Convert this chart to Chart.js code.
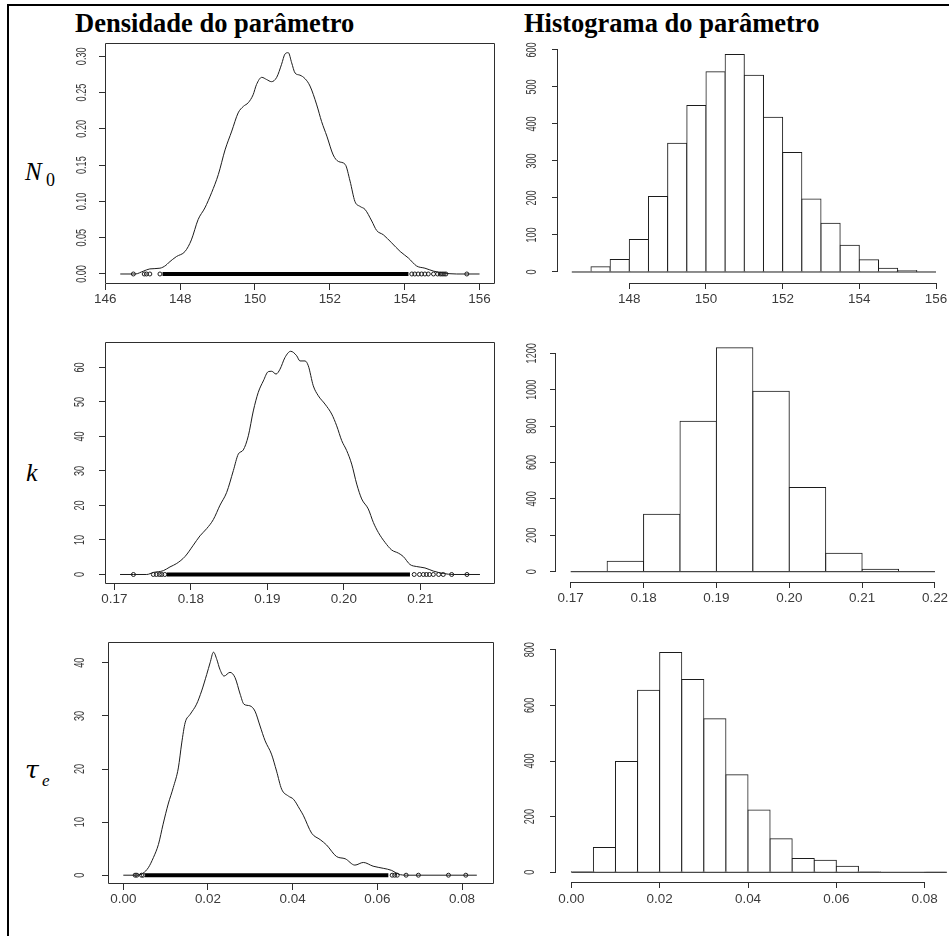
<!DOCTYPE html>
<html lang="pt">
<head>
<meta charset="utf-8">
<title>Densidade e histograma dos parâmetros</title>
<script src="https://cdn.jsdelivr.net/npm/chart.js@4.4.1/dist/chart.umd.min.js"></script>
<style>
  html, body { margin: 0; padding: 0; background: #fff; }
  #page { position: relative; width: 949px; height: 936px; overflow: hidden; background: #fff; }
  #frame { position: absolute; left: 7px; top: 4px; right: -10px; bottom: -10px;
           border-left: 2px solid #000; border-top: 2px solid #000; }
  .title { position: absolute; top: 10px; font: bold 26.5px "Liberation Serif", "Times New Roman", serif;
           line-height: 1; white-space: nowrap; color: #000; }
  .sym { position: absolute; font-family: "Liberation Serif", "Times New Roman", serif;
         line-height: 1; white-space: nowrap; color: #000; }
  canvas { position: absolute; }
</style>
</head>
<body>
<div id="page">
  <div id="frame"></div>
  <div class="title" style="left:75px">Densidade do parâmetro</div>
  <div class="title" style="left:524px">Histograma do parâmetro</div>
  <span class="sym" style="left:25px;top:159px;font-size:25px;font-style:italic">N</span>
  <span class="sym" style="left:46px;top:171px;font-size:18px">0</span>
  <span class="sym" style="left:26px;top:460px;font-size:26px;font-style:italic">k</span>
  <span class="sym" style="left:25px;top:757px;font-size:25px;font-style:italic;font-family:'DejaVu Serif',serif">τ</span>
  <span class="sym" style="left:42px;top:772px;font-size:17px;font-style:italic">e</span>
</div>
<script>
// ---------- N0 : density estimate ----------
const n0DensityX = [146.40, 146.80, 147.02, 147.19, 147.46, 147.62, 147.68, 147.90, 148.13, 148.30,
  148.48, 148.66, 148.84, 149.02, 149.20, 149.38, 149.55, 149.69, 149.82, 149.95, 150.04, 150.18,
  150.31, 150.44, 150.58, 150.71, 150.80, 150.89, 150.98, 151.07, 151.20, 151.34, 151.47, 151.65,
  151.78, 151.92, 152.09, 152.23, 152.41, 152.54, 152.67, 152.81, 152.94, 153.12, 153.25, 153.43,
  153.65, 153.88, 154.10, 154.32, 154.54, 154.77, 155.03, 155.39, 156.00];
const n0DensityY = [0, 0, 0.004, 0.007, 0.008, 0.012, 0.015, 0.024, 0.031, 0.047,
  0.075, 0.091, 0.112, 0.137, 0.171, 0.197, 0.222, 0.231, 0.236, 0.247, 0.261, 0.271,
  0.268, 0.265, 0.271, 0.289, 0.303, 0.305, 0.291, 0.277, 0.274, 0.269, 0.259, 0.233,
  0.210, 0.190, 0.164, 0.155, 0.151, 0.128, 0.100, 0.093, 0.089, 0.073, 0.060, 0.054,
  0.043, 0.031, 0.022, 0.011, 0.008, 0.004, 0.0014, 0, 0];
const n0RugBand = [147.53, 154.10];
const n0RugPoints = [146.75, 147.04, 147.10, 147.19, 147.46, 154.19, 154.27, 154.36, 154.45,
  154.54, 154.63, 154.77, 154.88, 154.95, 155.00, 155.05, 155.10, 155.66];
const n0DensityXTicks = ['146', '148', '150', '152', '154', '156'];
const n0DensityYTicks = ['0.00', '0.05', '0.10', '0.15', '0.20', '0.25', '0.30'];

// ---------- N0 : histogram ----------
const n0Breaks = [146.5, 147, 147.5, 148, 148.5, 149, 149.5, 150, 150.5, 151, 151.5, 152,
  152.5, 153, 153.5, 154, 154.5, 155, 155.5, 156];
const n0Counts = [0, 14, 34, 88, 204, 348, 450, 541, 588, 532, 418, 323, 197, 132, 72, 33, 10, 4, 0];
const n0HistXTicks = ['148', '150', '152', '154', '156'];
const n0HistYTicks = ['0', '100', '200', '300', '400', '500', '600'];

// ---------- k : density estimate ----------
const kDensityX = [0.17075, 0.17250, 0.17424, 0.17510, 0.17640, 0.17728, 0.17816, 0.17924,
  0.18033, 0.18120, 0.18208, 0.18294, 0.18382, 0.18469, 0.18556, 0.18621, 0.18686, 0.18752,
  0.18817, 0.18882, 0.18948, 0.19013, 0.19058, 0.19114, 0.19166, 0.19231, 0.19306, 0.19384,
  0.19427, 0.19493, 0.19536, 0.19601, 0.19667, 0.19754, 0.19842, 0.19907, 0.19973, 0.20038,
  0.20103, 0.20169, 0.20234, 0.20320, 0.20386, 0.20451, 0.20539, 0.20626, 0.20713, 0.20778,
  0.20865, 0.20953, 0.21061, 0.21170, 0.21301, 0.21431, 0.21780];
const kDensityY = [0, 0, 0, 0.6, 1.1, 2.2, 3.2, 5.2,
  8.5, 11.2, 13.3, 15.9, 20.1, 23.8, 30.1, 34.9, 36.1, 40.2,
  47.4, 52.8, 56.1, 58.8, 58.9, 58.1, 59.5, 62.9, 64.7, 63.4,
  61.9, 61.9, 60.5, 54.7, 51.8, 49.4, 46.5, 43.1, 38.8, 35.9,
  32.0, 26.2, 21.9, 19.0, 15.1, 12.2, 9.3, 7.1, 6.2, 5.2,
  2.9, 2.3, 1.9, 1.0, 0.3, 0, 0];
const kRugBand = [0.17685, 0.20865];
const kRugPoints = [0.1725, 0.1751, 0.1755, 0.1759, 0.1762, 0.1766, 0.2092, 0.2099, 0.2104,
  0.2108, 0.2112, 0.2117, 0.2124, 0.2130, 0.2141, 0.2161];
const kDensityXTicks = ['0.17', '0.18', '0.19', '0.20', '0.21'];
const kDensityYTicks = ['0', '10', '20', '30', '40', '50', '60'];

// ---------- k : histogram ----------
const kBreaks = [0.17, 0.175, 0.18, 0.185, 0.19, 0.195, 0.20, 0.205, 0.21, 0.215, 0.22];
const kCounts = [0, 57, 315, 826, 1231, 991, 462, 101, 13, 0];
const kHistXTicks = ['0.17', '0.18', '0.19', '0.20', '0.21', '0.22'];
const kHistYTicks = ['0', '200', '400', '600', '800', '1000', '1200'];

// ---------- tau_e : density estimate ----------
const tauDensityX = [0.0000, 0.0032, 0.0047, 0.0059, 0.0071, 0.0083, 0.0094, 0.0106, 0.0118,
  0.0130, 0.0138, 0.0146, 0.0158, 0.0173, 0.0185, 0.0197, 0.0205, 0.0213, 0.0221, 0.0228,
  0.0238, 0.0252, 0.0264, 0.0276, 0.0285, 0.0299, 0.0311, 0.0323, 0.0335, 0.0350, 0.0362,
  0.0374, 0.0390, 0.0402, 0.0417, 0.0425, 0.0445, 0.0465, 0.0480, 0.0504, 0.0524, 0.0547,
  0.0567, 0.0590, 0.0614, 0.0634, 0.0650, 0.0669, 0.0835];
const tauDensityY = [0, 0, 0.4, 1.4, 3.3, 5.8, 9.6, 13.4, 16.5,
  20.2, 24.9, 28.7, 30.3, 32.2, 34.7, 37.8, 40.0, 42.0, 40.6, 38.8,
  37.5, 38.2, 37.2, 34.1, 32.2, 31.9, 30.9, 28.1, 25.3, 22.8, 19.6,
  16.2, 14.9, 14.3, 12.4, 11.3, 7.9, 6.7, 5.7, 3.5, 3.1, 1.9,
  2.4, 1.7, 1.3, 0.9, 0.2, 0, 0];
const tauRugBand = [0.0051, 0.0626];
const tauRugPoints = [0.0028, 0.0032, 0.0043, 0.0047, 0.0635, 0.0641, 0.0647, 0.0668, 0.0697,
  0.0768, 0.0809];
const tauDensityXTicks = ['0.00', '0.02', '0.04', '0.06', '0.08'];
const tauDensityYTicks = ['0', '10', '20', '30', '40'];

// ---------- tau_e : histogram ----------
const tauBreaks = [0, 0.005, 0.01, 0.015, 0.02, 0.025, 0.03, 0.035, 0.04, 0.045, 0.05, 0.055,
  0.06, 0.065, 0.07, 0.075, 0.08, 0.085];
const tauCounts = [3, 89, 398, 654, 790, 693, 552, 351, 224, 121, 50, 43, 22, 2, 0, 0, 1];
const tauHistXTicks = ['0.00', '0.02', '0.04', '0.06', '0.08'];
const tauHistYTicks = ['0', '200', '400', '600', '800'];

// ---------- look ----------
const LINE = '#1c1c1c';
const AXIS = '#2e2e2e';
const LABEL = '#3a3a3a';
const SANS = '"Liberation Sans", Arial, sans-serif';
const X_FONT = 12, X_STRETCH = 1.12;      // bottom tick labels, slightly widened
const Y_FONT = 14, Y_CONDENSE = 0.65;     // rotated left tick labels, narrow digits
const MARGIN_L = 70, MARGIN_T = 10, MARGIN_B = 40;

// Box / R-style axes and tick labels, drawn from the chart's own scales.
const rAxes = {
  id: 'rAxes',
  afterDraw(chart, _args, o) {
    const { ctx, chartArea: a } = chart;
    const xs = chart.scales.x, ys = chart.scales.y;
    const L = Math.round(a.left), R = Math.round(a.right);
    const T = Math.round(a.top), B = Math.round(a.bottom);
    const al = p => Math.round(p - 0.5) + 0.5;
    ctx.save();
    ctx.strokeStyle = AXIS;
    ctx.lineWidth = 1;
    ctx.beginPath();
    if (o.box) {
      ctx.rect(L + 0.5, T + 0.5, R - L - 1, B - T - 1);
    } else {
      const xa = al(xs.getPixelForValue(xs.ticks[0].value));
      const xb = al(xs.getPixelForValue(xs.ticks[xs.ticks.length - 1].value));
      ctx.moveTo(xa - 0.5, B + 0.5);
      ctx.lineTo(xb + 0.5, B + 0.5);
      const ya = al(ys.getPixelForValue(ys.ticks[0].value));
      const yb = al(ys.getPixelForValue(ys.ticks[ys.ticks.length - 1].value));
      ctx.moveTo(L - 0.5, ya + 0.5);
      ctx.lineTo(L - 0.5, yb - 0.5);
    }
    ctx.stroke();

    ctx.fillStyle = LABEL;
    ctx.textAlign = 'center';
    ctx.textBaseline = 'middle';
    ctx.font = X_FONT + 'px ' + SANS;
    xs.ticks.forEach(t => {
      ctx.save();
      ctx.translate(xs.getPixelForValue(t.value), B + o.xGap);
      ctx.scale(X_STRETCH, 1);
      ctx.fillText(t.label, 0, 0);
      ctx.restore();
    });
    ctx.font = Y_FONT + 'px ' + SANS;
    ys.ticks.forEach(t => {
      ctx.save();
      ctx.translate(L - o.yGap, ys.getPixelForValue(t.value));
      ctx.rotate(-Math.PI / 2);
      ctx.scale(Y_CONDENSE, 1);
      ctx.fillText(t.label, 0, 0);
      ctx.restore();
    });
    ctx.restore();
  }
};

function makeCanvas(box, padR) {
  const c = document.createElement('canvas');
  c.width = box.r - box.l + MARGIN_L + padR;
  c.height = box.b - box.t + MARGIN_T + MARGIN_B;
  c.style.left = (box.l - MARGIN_L) + 'px';
  c.style.top = (box.t - MARGIN_T) + 'px';
  c.style.width = c.width + 'px';
  c.style.height = c.height + 'px';
  document.getElementById('page').appendChild(c);
  return c;
}

function axis(lim, labels, pos) {
  return {
    type: 'linear', position: pos, min: lim[0], max: lim[1], offset: false,
    grid: { display: true, drawOnChartArea: false, drawTicks: true, tickLength: 6,
            color: AXIS, lineWidth: 1, offset: false },
    border: { display: false },
    ticks: { display: false, callback: (v, i) => labels[i] },
    afterBuildTicks: s => { s.ticks = labels.map(t => ({ value: parseFloat(t) })); },
    afterFit: s => {
      if (pos === 'bottom') s.height = MARGIN_B; else s.width = MARGIN_L;
      s.paddingLeft = s.paddingRight = s.paddingTop = s.paddingBottom = 0;
    }
  };
}

function baseOptions(p, padR) {
  return {
    responsive: false, animation: false, devicePixelRatio: 1, events: [],
    layout: { padding: { top: MARGIN_T, right: padR, left: 0, bottom: 0 } },
    plugins: { legend: { display: false }, tooltip: { enabled: false },
               rAxes: { box: p.box, xGap: p.xGap, yGap: p.yGap } },
    scales: { x: axis(p.xLim, p.xTicks, 'bottom'), y: axis(p.yLim, p.yTicks, 'left') }
  };
}

function densityChart(p) {
  const canvas = makeCanvas(p.box, 10);
  const curve = p.cx.map((x, i) => ({ x, y: p.cy[i] }));
  new Chart(canvas, {
    type: 'scatter',
    data: { datasets: [
      { data: p.rug.map(x => ({ x, y: 0 })), showLine: false, pointRadius: 2, pointHoverRadius: 2,
        pointBorderWidth: 1, pointBackgroundColor: 'rgba(0,0,0,0)', pointBorderColor: LINE, order: 0 },
      { data: p.band.map(x => ({ x, y: 0 })), showLine: true, borderWidth: 4, borderColor: '#000',
        pointRadius: 0, order: 1 },
      { data: curve, showLine: true, borderWidth: 1, borderColor: LINE, pointRadius: 0,
        cubicInterpolationMode: 'monotone', order: 2 }
    ] },
    options: baseOptions({ ...p, box: true }, 10),
    plugins: [rAxes]
  });
}

function histChart(p) {
  const canvas = makeCanvas(p.box, 0);
  const bars = p.counts.map((c, i) => ({ x: (p.breaks[i] + p.breaks[i + 1]) / 2, y: c }));
  const last = p.breaks[p.breaks.length - 1];
  new Chart(canvas, {
    type: 'bar',
    data: { datasets: [
      { type: 'line', data: [{ x: p.breaks[0], y: 0 }, { x: last, y: 0 }], borderColor: LINE,
        borderWidth: 1, pointRadius: 0, order: 0 },
      { type: 'bar', data: bars, backgroundColor: '#ffffff', borderColor: LINE, borderWidth: 1,
        borderSkipped: 'bottom', inflateAmount: 0.5, barPercentage: 1, categoryPercentage: 1, order: 1 }
    ] },
    options: baseOptions({ ...p, box: false }, 0),
    plugins: [rAxes]
  });
}

densityChart({ box: { l: 105, t: 43, r: 495, b: 284 }, xLim: [145.992, 156.413], yLim: [-0.01378, 0.31831],
  cx: n0DensityX, cy: n0DensityY, band: n0RugBand, rug: n0RugPoints,
  xTicks: n0DensityXTicks, yTicks: n0DensityYTicks, xGap: 16, yGap: 23 });
histChart({ box: { l: 558, t: 45, r: 949, b: 283 }, xLim: [146.140, 156.339], yLim: [-29.73, 613.5],
  breaks: n0Breaks, counts: n0Counts, xTicks: n0HistXTicks, yTicks: n0HistYTicks, xGap: 16.5, yGap: 26 });

densityChart({ box: { l: 105, t: 342, r: 495, b: 584 }, xLim: [0.168784, 0.219765], yLim: [-2.754, 67.39],
  cx: kDensityX, cy: kDensityY, band: kRugBand, rug: kRugPoints,
  xTicks: kDensityXTicks, yTicks: kDensityYTicks, xGap: 16, yGap: 25 });
histChart({ box: { l: 556, t: 338, r: 949, b: 582 }, xLim: [0.167982, 0.221922], yLim: [-56.6, 1284.1],
  breaks: kBreaks, counts: kCounts, xTicks: kHistXTicks, yTicks: kHistYTicks, xGap: 17, yGap: 24 });

densityChart({ box: { l: 108, t: 642, r: 494, b: 884 }, xLim: [-0.003614, 0.087558], yLim: [-1.657, 43.917],
  cx: tauDensityX, cy: tauDensityY, band: tauRugBand, rug: tauRugPoints,
  xTicks: tauDensityXTicks, yTicks: tauDensityYTicks, xGap: 16, yGap: 28 });
histChart({ box: { l: 556, t: 643, r: 949, b: 882 }, xLim: [-0.003464, 0.085501], yLim: [-34.86, 824.1],
  breaks: tauBreaks, counts: tauCounts, xTicks: tauHistXTicks, yTicks: tauHistYTicks, xGap: 17.5, yGap: 26 });
</script>
</body>
</html>
